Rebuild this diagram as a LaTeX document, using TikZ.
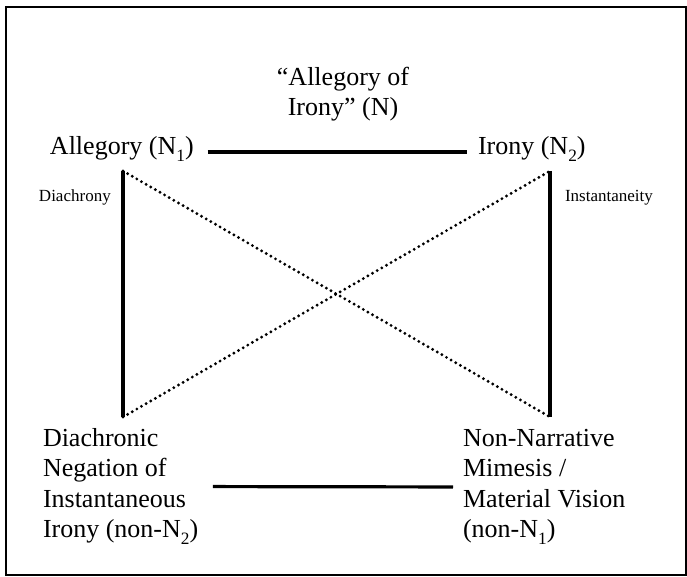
\documentclass[tikz,border=0pt]{standalone}
\usepackage{fontspec}
\setmainfont{Liberation Serif}
\usetikzlibrary{calc}
% lowered index digit, as in N_1
\newcommand\lowidx[1]{\raisebox{-0.26em}{\fontsize{13pt}{13pt}\selectfont #1}}
\begin{document}
\begin{tikzpicture}[x=0.75pt,y=-0.75pt,
  big/.style={font=\fontsize{19.5pt}{22.9pt}\selectfont, inner sep=0pt, outer sep=0pt},
  small/.style={font=\fontsize{12.75pt}{15pt}\selectfont, inner sep=0pt, outer sep=0pt},
  solidline/.style={line width=2.4pt},
  dotline/.style={line width=2.4pt, dash pattern=on 0pt off 4pt, line cap=round},
  frame/.style={line width=1.9pt}]
\useasboundingbox (0,0) rectangle (687,577);
% outer frame
\draw[frame] (6,7) rectangle (686,575);

% title (base anchor sits on the last line)
\node[big, align=center, anchor=base] (title) at (343,116) {“Allegory of\\Irony” (N)};

% corner terms
\node[big, anchor=base west] (allegory) at (50,155) {Allegory (N\lowidx{1})};
\node[big, anchor=base west] (irony) at (478,155) {Irony (N\lowidx{2})};
\node[big, anchor=base west, align=left] (nonirony) at (43,538)
  {Diachronic\\Negation of\\Instantaneous\\Irony (non-N\lowidx{2})};
\node[big, anchor=base west, align=left] (nonallegory) at (463,538)
  {Non-Narrative\\Mimesis /\\Material Vision\\(non-N\lowidx{1})};

% side labels
\node[small, anchor=base west] (diachrony) at (39,202) {Diachrony};
\node[small, anchor=base west] (instant) at (565,202) {Instantaneity};

% square corners
\coordinate (tl) at (123,171);
\coordinate (tr) at (550,171);
\coordinate (bl) at (123,417);
\coordinate (br) at (550,417);

% contraries and subcontraries
\draw[solidline, shorten <=10.5pt, shorten >=8pt] (allegory.mid east) -- (irony.mid west);
\draw[solidline, shorten <=11pt, shorten >=7.5pt] (nonirony.east) -- (nonallegory.west);

% implications
\draw[solidline] (tl) -- (bl);
\draw[solidline] (tr) -- (br);

% contradictories
\draw[dotline] (tl) -- (br);
\draw[dotline] (bl) -- (tr);
\end{tikzpicture}
\end{document}
